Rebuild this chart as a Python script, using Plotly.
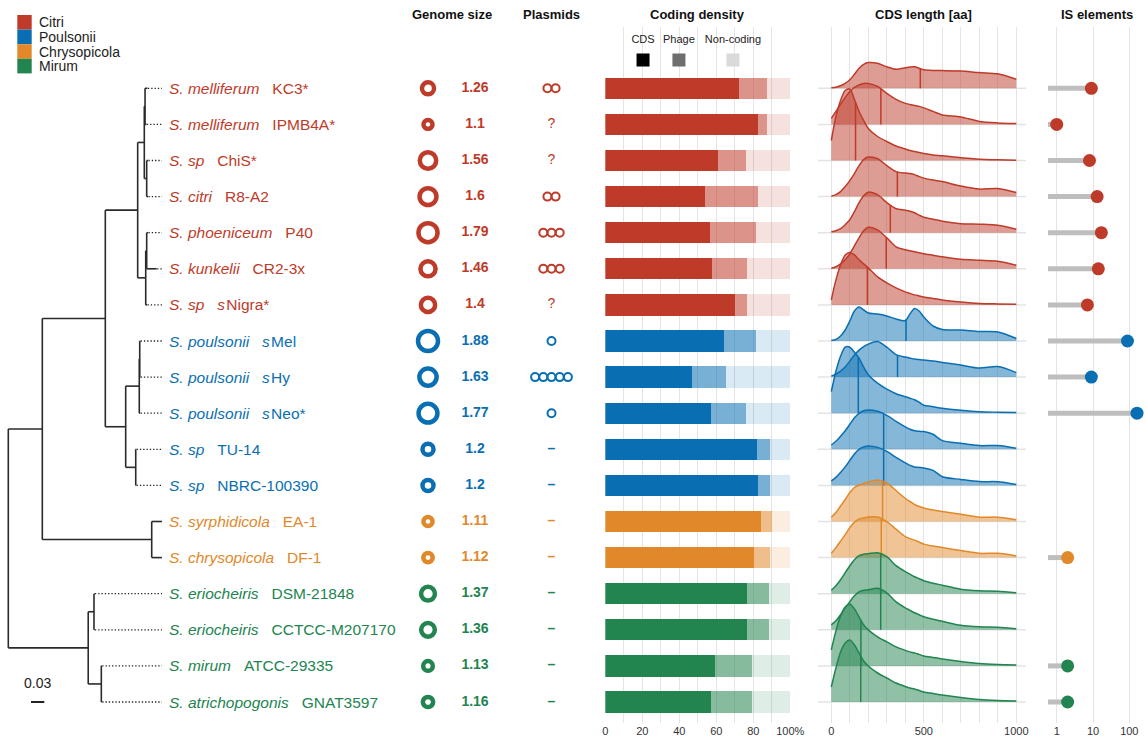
import numpy as np
import plotly.graph_objects as go

FONT = "Liberation Sans, Arial, sans-serif"

# ---------------------------------------------------------------- data
GROUPS = ["Citri", "Poulsonii", "Chrysopicola", "Mirum"]
GROUP_COLORS = {"Citri": "#BE3B2A", "Poulsonii": "#0A6FB2",
                "Chrysopicola": "#E1892A", "Mirum": "#22844F"}

species = ["S. melliferum", "S. melliferum", "S. sp", "S. citri", "S. phoeniceum",
           "S. kunkelii", "S. sp", "S. poulsonii", "S. poulsonii", "S. poulsonii",
           "S. sp", "S. sp", "S. syrphidicola", "S. chrysopicola", "S. eriocheiris",
           "S. eriocheiris", "S. mirum", "S. atrichopogonis"]
strains = ["KC3*", "IPMB4A*", "ChiS*", "R8-A2", "P40", "CR2-3x", "<i>s</i>\u200aNigra*",
           "<i>s</i>\u200aMel", "<i>s</i>\u200aHy", "<i>s</i>\u200aNeo*", "TU-14", "NBRC-100390",
           "EA-1", "DF-1", "DSM-21848", "CCTCC-M207170", "ATCC-29335", "GNAT3597"]
tip_ids = ["KC3", "IPMB4A", "ChiS", "R8-A2", "P40", "CR2-3x", "sNigra", "sMel", "sHy",
           "sNeo", "TU-14", "NBRC-100390", "EA-1", "DF-1", "DSM-21848", "CCTCC-M207170",
           "ATCC-29335", "GNAT3597"]
clade = ["Citri"] * 7 + ["Poulsonii"] * 5 + ["Chrysopicola"] * 2 + ["Mirum"] * 4

# phylogeny (substitutions per site)
newick = ("((((((KC3:0.0055,IPMB4A:0.003):0.0017,(ChiS:0.003,R8-A2:0.003):0.0054):0.0149,"
          "((P40:0.003,CR2-3x:0.0225):0.0022,sNigra:0.003):0.0181):0.0729,"
          "(((sMel:0.001,sHy:0.001):0.001,sNeo:0.002):0.0306,"
          "(TU-14:0.001,NBRC-100390:0.001):0.0226):0.0459):0.1419,"
          "(EA-1:0.023,DF-1:0.023):0.2464):0.0766,"
          "((DSM-21848:0.001,CCTCC-M207170:0.001):0.013,"
          "(ATCC-29335:0.001,GNAT3597:0.001):0.0295):0.180);")
tip_align = 0.346
scale_bar = 0.03

genome_mb = [1.26, 1.1, 1.56, 1.6, 1.79, 1.46, 1.4, 1.88, 1.63, 1.77,
             1.2, 1.2, 1.11, 1.12, 1.37, 1.36, 1.13, 1.16]
plasmids = [2, None, None, 2, 3, 3, None, 1, 5, 1, 0, 0, 0, 0, 0, 0, 0, 0]

cds_pct = [72.3, 82.7, 61.0, 54.2, 56.5, 57.6, 70.3, 64.1, 46.8, 57.5,
           82.3, 82.8, 84.4, 80.3, 76.9, 76.7, 59.2, 57.2]
phage_pct = [15.5, 4.9, 15.0, 28.5, 25.1, 19.1, 6.3, 17.5, 18.4, 18.7,
             7.0, 6.5, 5.9, 9.0, 12.0, 12.0, 20.3, 22.3]
density_ticks = [0, 10, 20, 30, 40, 50, 60, 70, 80, 90, 100]
density_labels = ["0", "", "20", "", "40", "", "60", "", "80", "", "100%"]
density_keys = ["CDS", "Phage", "Non-coding"]
density_key_pos = [20.4, 39.8, 69.0]

# CDS length distributions (relative density on a common aa grid)
aa_grid = [0, 25, 50, 75, 100, 125, 150, 175, 200, 250, 300, 350, 400, 425, 450,
           475, 500, 550, 600, 700, 800, 900, 1000]
cds_density = [
    [0.5, 1, 2.5, 5, 8.5, 14, 20, 24, 25.7, 25, 21.5, 19, 20.5, 21.3, 21.5, 20, 18.5, 17.8, 17.7, 17.3, 15.7, 14.5, 9],
    [6, 13, 20, 27, 33, 37, 39.5, 41, 41, 38, 31, 25, 21, 20, 19, 18, 16.5, 13, 9.5, 7.5, 3, 1.5, 1],
    [20, 44, 60, 70, 71.5, 61, 49, 40, 32, 24, 19, 14.5, 11.5, 10, 9, 8, 7, 5.5, 4.7, 2.7, 1.3, 0.7, 0.3],
    [0.5, 2, 5, 10, 16, 23, 31, 37, 39.5, 38, 31, 25, 23.5, 23, 22, 20, 18.5, 16.5, 15, 10.5, 7.5, 8, 4],
    [1, 2, 4, 8, 13, 21, 30, 37, 40.5, 38, 30, 24, 22.5, 21.5, 20, 17.5, 15.5, 13.5, 11.5, 9, 8.5, 7.5, 3.5],
    [0.5, 2, 5, 9, 15, 23, 31, 38, 41.5, 39, 31, 22, 19, 18, 17, 16, 15, 13.5, 12, 9.5, 8.5, 7.5, 3.5],
    [5, 25, 40, 50, 52.5, 50, 45, 41, 37, 28, 22, 17, 13, 11.5, 10, 9, 8, 6.5, 5, 3, 1.5, 1, 0.7],
    [0.5, 1.5, 5, 11, 20, 30, 34, 31, 28, 27, 25, 22, 20.5, 27, 32.5, 30, 24, 15, 11.5, 11, 9.5, 9, 2.5],
    [1, 3, 6, 10, 16, 22, 27, 30.5, 33, 35.5, 30, 22.5, 20, 19, 18, 17.5, 17, 16, 14.7, 12, 9, 10.5, 4.5],
    [21.5, 42, 57, 66, 66, 61, 55, 46, 38.5, 30, 24, 19.5, 16.5, 15, 13.5, 11, 8, 6.5, 5, 3, 1.5, 1, 0.7],
    [4.3, 8, 13, 18.5, 25, 31.5, 36, 38.5, 39.3, 38, 34, 28, 22.5, 20, 18.5, 18, 17.7, 15, 8.7, 6, 3.7, 3.7, 1],
    [4.5, 8, 13, 18.5, 25, 31.5, 36, 38.5, 39.5, 38, 34, 28, 22.5, 20, 18.5, 18, 17.5, 15, 8.7, 6, 3.8, 3.7, 1],
    [4.3, 9, 15.5, 22, 29, 34, 36.5, 38, 39.5, 41.5, 38.5, 31, 23, 20, 17, 15, 13.5, 11.5, 10, 7.3, 4.3, 4.3, 1.7],
    [4.3, 10, 16.5, 23, 30, 35.5, 38.5, 39.5, 40.5, 40.5, 36, 28.5, 21, 19, 17.5, 15.5, 13.5, 11.5, 10, 7, 4.3, 4.3, 1.7],
    [3.5, 8, 14, 21, 28, 34, 38, 39.5, 40, 41, 37, 28, 22, 19.5, 17, 15, 13, 10.5, 8.5, 4.5, 3, 2.5, 1],
    [5, 9, 15, 22, 28, 34, 38, 39.5, 40, 41.5, 37, 28, 22, 19.5, 17, 15, 13, 10.5, 8.5, 4.5, 3, 2.5, 1],
    [16, 35, 50, 59, 62, 57, 49, 41, 36, 29, 24, 19, 15.5, 14, 13, 11.5, 10, 8.5, 7, 4.5, 2.5, 1.5, 1],
    [15, 34, 50, 59, 62, 57, 49, 41, 36, 29, 24, 19, 15.5, 14, 13, 11.5, 10, 8.5, 7, 4.5, 2.5, 1.5, 1],
]
cds_median = [481, 268, 131, 357, 319, 297, 195, 404, 358, 146, 283, 283, 277, 270, 267, 267, 160, 159]
length_ticks = [0, 100, 200, 300, 400, 500, 600, 700, 800, 900, 1000]
length_labels = ["0", "", "", "", "", "500", "", "", "", "", "1000"]

is_elements = [9, 1, 8, 13, 17, 14, 7, 89, 9, 163, None, None, None, 2, None, None, 2, 2]
is_ticks = [1, 10, 100]

panel_titles = ["Genome size", "Plasmids", "Coding density", "CDS length [aa]", "IS elements"]

# ---------------------------------------------------------------- helpers
W, H = 1146, 740                     # design canvas; the figure width follows the page
ROW0, ROW_STEP = 88.3, 36.1          # px of first row centre, px per row
Y_TOP, Y_BOT = 27, 723               # px extent of the panel grid
RIDGE_SCALE = 1 / ROW_STEP
n = len(species)
rows = list(range(n))


def rgba(hex_color, a):
    h = hex_color.lstrip("#")
    r, g, b = int(h[0:2], 16), int(h[2:4], 16), int(h[4:6], 16)
    return f"rgba({r},{g},{b},{a})"


def py(px):  # pixel from top -> paper fraction
    return 1 - px / H


colors = [GROUP_COLORS[c] for c in clade]


def parse_newick(s):
    pos = 0

    def node():
        nonlocal pos
        children = []
        if s[pos] == "(":
            pos += 1
            while True:
                children.append(node())
                if s[pos] == ",":
                    pos += 1
                elif s[pos] == ")":
                    pos += 1
                    break
                else:
                    raise ValueError(f"bad newick at {pos}: {s[pos]!r}")
        start = pos
        while s[pos] not in ":,);":
            pos += 1
        name = s[start:pos]
        length = 0.0
        if s[pos] == ":":
            pos += 1
            start = pos
            while s[pos] not in ",);":
                pos += 1
            length = float(s[start:pos])
        return {"name": name, "len": length, "children": children}

    return node()


tree = parse_newick(newick)


def place(nd, depth):
    nd["x"] = depth + nd["len"]
    if nd["children"]:
        ys = [place(c, nd["x"]) for c in nd["children"]]
        nd["y"] = (min(ys) + max(ys)) / 2
    else:
        nd["y"] = tip_ids.index(nd["name"])
    return nd["y"]


place(tree, 0.0)
branch_x, branch_y, dot_x, dot_y = [], [], [], []


def collect(nd):
    if nd["children"]:
        cy = [c["y"] for c in nd["children"]]
        branch_x.extend([nd["x"], nd["x"], None])
        branch_y.extend([min(cy), max(cy), None])
        for c in nd["children"]:
            branch_x.extend([nd["x"], c["x"], None])
            branch_y.extend([c["y"], c["y"], None])
            collect(c)
    elif nd["x"] < tip_align - 0.002:
        dot_x.extend([nd["x"] + 0.001, tip_align, None])
        dot_y.extend([nd["y"], nd["y"], None])


collect(tree)

fig = go.Figure()

# ---------------------------------------------------------------- tree
fig.add_trace(go.Scatter(x=dot_x, y=dot_y, mode="lines", xaxis="x", yaxis="y",
                         line=dict(color="#222222", width=1.3, dash="1.3px,2px"),
                         hoverinfo="skip"))
fig.add_trace(go.Scatter(x=branch_x, y=branch_y, mode="lines", xaxis="x", yaxis="y",
                         line=dict(color="#2a2a2a", width=1.6), hoverinfo="skip"))
sb_x0 = 0.0511
fig.add_trace(go.Scatter(x=[sb_x0, sb_x0 + scale_bar], y=[n - 1, n - 1], mode="lines",
                         xaxis="x", yaxis="y", line=dict(color="#222", width=2),
                         hoverinfo="skip"))

annotations = []
annotations.append(dict(x=sb_x0 + scale_bar / 2, y=n - 1, xref="x", yref="y",
                        text=f"{scale_bar}", showarrow=False, yshift=19,
                        font=dict(family=FONT, size=14, color="#222")))

# tip labels
for i in rows:
    annotations.append(dict(
        x=167, y=i, xref="x2", yref="y", xanchor="left", yanchor="middle",
        text=f"<i>{species[i]}</i>\u00a0\u00a0\u00a0{strains[i]}", showarrow=False,
        font=dict(family=FONT, size=15.5, color=colors[i])))

# ---------------------------------------------------------------- genome size
ring = [20.25 * np.sqrt(g - 0.905) for g in genome_mb]
fig.add_trace(go.Scatter(x=[428] * n, y=rows, mode="markers", xaxis="x2", yaxis="y",
                         marker=dict(symbol="circle-open", size=ring, color=colors, opacity=1,
                                     line=dict(width=4.5)), hoverinfo="skip"))
fig.add_trace(go.Scatter(x=[475] * n, y=rows, mode="text", xaxis="x2", yaxis="y",
                         text=[f"<b>{g}</b>" for g in genome_mb],
                         textfont=dict(family=FONT, size=14, color=colors),
                         hoverinfo="skip"))

# ---------------------------------------------------------------- plasmids
px_x, px_y, px_c, txt_x, txt_y, txt_s, txt_c = [], [], [], [], [], [], []
for i, p in enumerate(plasmids):
    if p is None:
        txt_x.append(551.5); txt_y.append(i); txt_s.append("?"); txt_c.append(colors[i])
    elif p == 0:
        txt_x.append(551.5); txt_y.append(i); txt_s.append("<b>\u2013</b>"); txt_c.append(colors[i])
    else:
        for k in range(p):
            px_x.append(551.5 + 8.2 * (k - (p - 1) / 2))
            px_y.append(i)
            px_c.append(colors[i])
fig.add_trace(go.Scatter(x=px_x, y=px_y, mode="markers", xaxis="x2", yaxis="y",
                         marker=dict(symbol="circle-open", size=8, color=px_c, opacity=1,
                                     line=dict(width=2)), hoverinfo="skip"))
fig.add_trace(go.Scatter(x=txt_x, y=txt_y, mode="text", xaxis="x2", yaxis="y", text=txt_s,
                         textfont=dict(family=FONT, size=14, color=txt_c),
                         hoverinfo="skip"))

# ---------------------------------------------------------------- coding density
noncoding = [100 - c - p for c, p in zip(cds_pct, phage_pct)]
for vals, alpha in [(cds_pct, 1.0), (phage_pct, 0.55), (noncoding, 0.15)]:
    fig.add_trace(go.Bar(x=vals, y=rows, orientation="h", width=0.59, xaxis="x3", yaxis="y",
                         marker=dict(color=[rgba(c, alpha) for c in colors], line_width=0),
                         hoverinfo="skip"))
key_y = (60 - ROW0) / ROW_STEP
fig.add_trace(go.Scatter(x=density_key_pos, y=[key_y] * 3, mode="markers", xaxis="x3", yaxis="y",
                         marker=dict(symbol="square", size=13,
                                     color=["#000000", "#6e6e6e", "#dadada"]),
                         hoverinfo="skip"))
fig.add_trace(go.Scatter(x=density_key_pos, y=[(40 - ROW0) / ROW_STEP] * 3, mode="text",
                         xaxis="x3", yaxis="y", text=density_keys,
                         textfont=dict(family=FONT, size=11, color="#222"),
                         hoverinfo="skip"))

# ---------------------------------------------------------------- CDS length ridges
bx, by = [], []
for i in rows:
    bx.extend([-72, 1052, None])
    by.extend([i, i, None])
fig.add_trace(go.Scatter(x=bx, y=by, mode="lines", xaxis="x4", yaxis="y",
                         line=dict(color="#e3e3e3", width=1.5), hoverinfo="skip"))
for i in rows:
    dens = cds_density[i]
    fig.add_trace(go.Scatter(x=[aa_grid[0], aa_grid[-1]], y=[i, i], mode="lines",
                             xaxis="x4", yaxis="y", line=dict(width=0, color=colors[i]),
                             hoverinfo="skip"))
    fig.add_trace(go.Scatter(x=aa_grid, y=[i - d * RIDGE_SCALE for d in dens], mode="lines",
                             xaxis="x4", yaxis="y", fill="tonexty",
                             fillcolor=rgba(colors[i], 0.5),
                             line=dict(color=colors[i], width=1.5, shape="spline", smoothing=0.8),
                             hoverinfo="skip"))
    hm = float(np.interp(cds_median[i], aa_grid, dens))
    fig.add_trace(go.Scatter(x=[cds_median[i], cds_median[i]], y=[i, i - hm * RIDGE_SCALE],
                             mode="lines", xaxis="x4", yaxis="y",
                             line=dict(color=colors[i], width=1.5), hoverinfo="skip"))

# ---------------------------------------------------------------- IS elements
is_lo = 10 ** -0.24
sx, sy, dx, dy, dc = [], [], [], [], []
for i, v in enumerate(is_elements):
    if v is None:
        continue
    sx.extend([is_lo, v, None]); sy.extend([i, i, None])
    dx.append(v); dy.append(i); dc.append(colors[i])
fig.add_trace(go.Scatter(x=sx, y=sy, mode="lines", xaxis="x5", yaxis="y",
                         line=dict(color="#bebebe", width=5), hoverinfo="skip"))
fig.add_trace(go.Scatter(x=dx, y=dy, mode="markers", xaxis="x5", yaxis="y",
                         marker=dict(size=13, color=dc, opacity=1), hoverinfo="skip"))

# ---------------------------------------------------------------- headers & legend
title_x = [451.7, 551.5, 697.5, 923.5, 1096.7]
for t, x in zip(panel_titles, title_x):
    annotations.append(dict(x=x / W, y=py(14), xref="paper", yref="paper", text=f"<b>{t}</b>",
                            showarrow=False, xanchor="center", yanchor="middle",
                            font=dict(family=FONT, size=13, color="#111")))

shapes = []
for k, g in enumerate(GROUPS):
    top = 15 + 14.6 * k
    shapes.append(dict(type="rect", xref="paper", yref="paper", x0=17.3 / W, x1=31.7 / W,
                       y0=py(top + 14.6), y1=py(top), fillcolor=GROUP_COLORS[g],
                       line=dict(width=0)))
    annotations.append(dict(x=37 / W, y=py(top + 7.3), xref="paper", yref="paper", text=g,
                            showarrow=False, xanchor="left", yanchor="middle",
                            font=dict(family=FONT, size=14, color="#222")))

# ---------------------------------------------------------------- axes
y_rng = [(Y_BOT - ROW0) / ROW_STEP, (Y_TOP - ROW0) / ROW_STEP]
grid = dict(showgrid=True, gridcolor="#e4e4e4", gridwidth=1.3, zeroline=False,
            showline=False, ticks="", tickfont=dict(family=FONT, size=11, color="#333"))
hidden = dict(visible=False, showgrid=False, zeroline=False)

fig.update_layout(
    height=H, margin=dict(l=0, r=0, t=0, b=0, autoexpand=False),
    paper_bgcolor="white", plot_bgcolor="rgba(0,0,0,0)", showlegend=False,
    barmode="stack", bargap=0,
    xaxis=dict(domain=[0, 166 / W], range=[-8.3 / 444, (166 - 8.3) / 444], anchor="y", **hidden),
    xaxis2=dict(domain=[0, 1], range=[0, W], anchor="y", **hidden),
    xaxis3=dict(domain=[605.3 / W, 790.3 / W], range=[0, 100], anchor="y",
                tickmode="array", tickvals=density_ticks, ticktext=density_labels, **grid),
    xaxis4=dict(domain=[818 / W, 1026 / W], range=[-71.9, 1052.4], anchor="y",
                tickmode="array", tickvals=length_ticks, ticktext=length_labels, **grid),
    xaxis5=dict(domain=[1048 / W, 1], type="log", range=[-0.24, 2.46], anchor="y",
                tickmode="array", tickvals=is_ticks, ticktext=[str(t) for t in is_ticks], **grid),
    yaxis=dict(domain=[py(Y_BOT), py(Y_TOP)], range=y_rng, visible=False,
               showgrid=False, zeroline=False),
    annotations=annotations, shapes=shapes,
)

# page around the figure: no body margin, no scrolling; the figure fills the page width
page_css = ("document.documentElement.style.margin='0';document.body.style.margin='0';"
            "document.documentElement.style.overflow='hidden';document.body.style.overflow='hidden';"
            "Plotly.Plots.resize(document.getElementById('{plot_id}'));")
fig.write_html("out.html", post_script=[page_css], default_width="100%")
